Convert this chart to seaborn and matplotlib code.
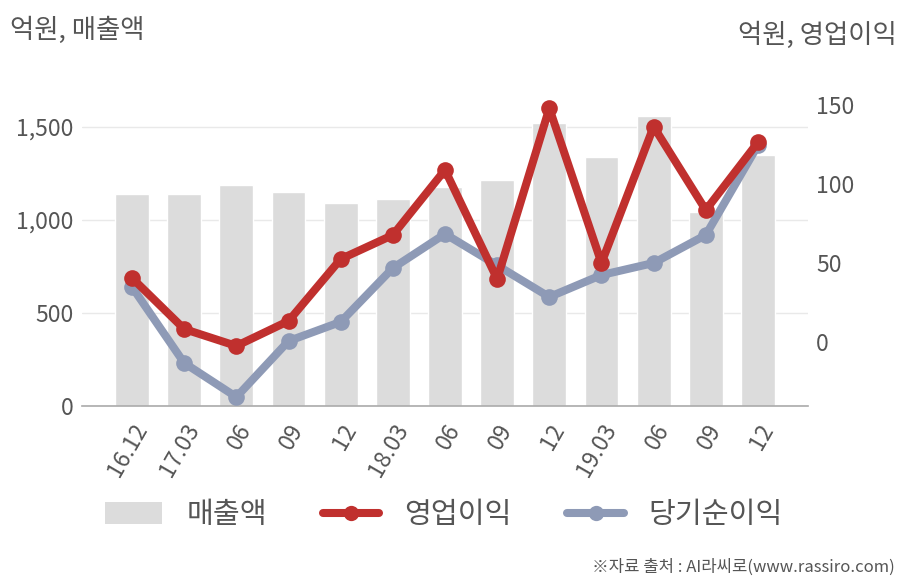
import matplotlib
matplotlib.use("Agg")
import matplotlib.pyplot as plt
import seaborn as sns
import pandas as pd
import numpy as np
from matplotlib.patches import Patch
from matplotlib.lines import Line2D

periods = ["16.12", "17.03", "06", "09", "12", "18.03", "06", "09", "12", "19.03", "06", "09", "12"]
revenue = [1140, 1140, 1188, 1150, 1091, 1113, 1177, 1215, 1520, 1339, 1559, 1043, 1349]
op_profit = [40.5, 8.2, -2.5, 13.3, 52.5, 67.7, 108.9, 39.9, 147.9, 50.0, 136.3, 83.5, 126.4]
net_profit = [34.8, -13.3, -34.8, 0.6, 12.7, 46.8, 68.4, 48.5, 28.5, 42.4, 50.0, 67.7, 124.5]

df = pd.DataFrame({"idx": range(len(periods)), "rev": revenue, "op": op_profit, "net": net_profit})

sns.set_theme(style="white")
plt.rcParams["font.family"] = ["Noto Sans CJK KR", "DejaVu Sans"]

BAR = "#dcdcdc"
RED = "#c0302e"
BLUE = "#8e9ab6"
TXT = "#555555"

fig = plt.figure(figsize=(9.08, 5.8), dpi=100)
ax = fig.add_axes([82/908, 1-406/580, (808-82)/908, (406-80.5)/580])

sns.barplot(data=df, x="idx", y="rev", color=BAR, width=0.65, saturation=1, ax=ax, zorder=2)
ax.set_xlim(-0.96, 12.96)
ax.set_ylim(0, 1750)
ax.set_yticks([0, 500, 1000, 1500])
ax.set_yticklabels(["0", "500", "1,000", "1,500"])
ax.yaxis.grid(True, color="#e9e9e9", linewidth=1, zorder=0)
ax.set_axisbelow(True)
ax.set_xticks(range(len(periods)))
ax.set_xticklabels(periods, rotation=60, ha="right", va="top", rotation_mode="anchor")
ax.tick_params(axis="both", length=0, labelsize=16.5, labelcolor=TXT, pad=6)
ax.tick_params(axis="x", pad=10)
ax.set_xlabel("")
ax.set_ylabel("")
for s in ["top", "right", "left"]:
    ax.spines[s].set_visible(False)
ax.spines["bottom"].set_color("#aaaaaa")
ax.spines["bottom"].set_linewidth(1.2)

ax2 = ax.twinx()
sns.lineplot(data=df, x="idx", y="net", color=BLUE, linewidth=5.8, marker="o", markersize=12,
             markeredgewidth=0, ax=ax2, zorder=3)
sns.lineplot(data=df, x="idx", y="op", color=RED, linewidth=5.8, marker="o", markersize=12,
             markeredgewidth=0, ax=ax2, zorder=4)
ax2.set_ylim(-40.5, 165.5)
ax2.set_yticks([0, 50, 100, 150])
ax2.tick_params(axis="y", length=0, labelsize=16.5, labelcolor=TXT, pad=6)
ax2.set_xlim(-0.96, 12.96)
ax2.set_ylabel("")
ax2.set_xlabel("")
for s in ["top", "right", "left", "bottom"]:
    ax2.spines[s].set_visible(False)

fig.text(10/908, 1-30/580, "억원, 매출액", fontsize=19, color=TXT, ha="left", va="center")
fig.text(897/908, 1-35/580, "억원, 영업이익", fontsize=19, color=TXT, ha="right", va="center")
fig.text(895/908, 1-567/580, "※자료 출처 : AI라씨로(www.rassiro.com)", fontsize=12, color=TXT,
         ha="right", va="center")

handles = [
    Patch(facecolor=BAR, edgecolor="none"),
    Line2D([0], [0], color=RED, linewidth=5.8, marker="o", markersize=11, markeredgewidth=0),
    Line2D([0], [0], color=BLUE, linewidth=5.8, marker="o", markersize=11, markeredgewidth=0),
]
fig.legend(handles, ["매출액", "영업이익", "당기순이익"], loc="center", ncol=3,
           bbox_to_anchor=(444/908, 1-515/580), frameon=False, fontsize=21,
           labelcolor=TXT, handlelength=1.95, handleheight=0.75, columnspacing=1.9, handletextpad=0.85)

fig.savefig("out.png", dpi=100, facecolor="white")
